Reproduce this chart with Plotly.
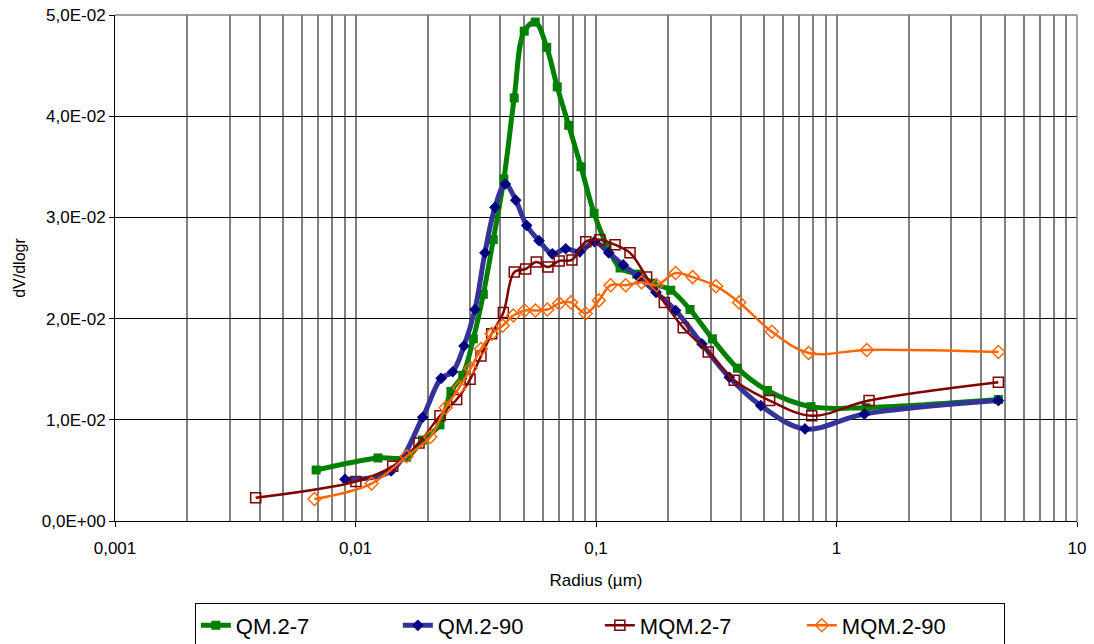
import plotly.graph_objects as go

# ---- data ----
qm27_r = [0.00686, 0.0124, 0.0163, 0.0190, 0.02245, 0.02494, 0.02791, 0.0309, 0.0340, 0.0374,
          0.0414, 0.0457, 0.0503, 0.0559, 0.0624, 0.0690, 0.0770, 0.0866, 0.0982, 0.1112,
          0.1259, 0.1476, 0.1721, 0.2046, 0.2460, 0.3047, 0.3873, 0.5157, 0.7834, 1.327, 4.71]
qm27_v = [0.00504, 0.00623, 0.0063, 0.0080, 0.0095, 0.0128, 0.0144, 0.0180, 0.0224, 0.0278,
          0.0338, 0.0418, 0.0484, 0.0493, 0.0468, 0.0429, 0.0391, 0.0350, 0.0304, 0.0272,
          0.0250, 0.0244, 0.0235, 0.0228, 0.0209, 0.0180, 0.0151, 0.0129, 0.0113, 0.0112, 0.0120]

qm290_r = [0.00904, 0.01406, 0.01902, 0.0227, 0.02537, 0.02826, 0.03139, 0.03453, 0.03801, 0.04196,
           0.04637, 0.0515, 0.05797, 0.0658, 0.07482, 0.08566, 0.09844, 0.1130, 0.1298, 0.1505,
           0.1776, 0.2143, 0.2758, 0.3584, 0.4844, 0.7396, 1.306, 4.71]
qm290_v = [0.00412, 0.00494, 0.01025, 0.0141, 0.01475, 0.0173, 0.0209, 0.0265, 0.0310, 0.0333,
           0.0317, 0.0292, 0.0277, 0.0264, 0.0269, 0.0266, 0.0276, 0.0265, 0.0253, 0.0241,
           0.0226, 0.0208, 0.0175, 0.0142, 0.0114, 0.0091, 0.01057, 0.0119]

mqm27_r = [0.003846, 0.01004, 0.01428, 0.01837, 0.02245, 0.02634, 0.02994, 0.03325, 0.03684, 0.0412,
           0.04571, 0.0510, 0.05646, 0.06312, 0.07031, 0.07943, 0.0907, 0.1038, 0.1200, 0.1385,
           0.1624, 0.1923, 0.2306, 0.2930, 0.3757, 0.5272, 0.7886, 1.366, 4.71]
mqm27_v = [0.0023, 0.0039, 0.0054, 0.0077, 0.0104, 0.0120, 0.0140, 0.0163, 0.0185, 0.0206,
           0.0246, 0.0249, 0.0256, 0.0251, 0.0257, 0.0258, 0.0276, 0.0278, 0.0273, 0.0265,
           0.0241, 0.0216, 0.0191, 0.0167, 0.0139, 0.0119, 0.0104, 0.0119, 0.0137]

mqm290_r = [0.00675, 0.01167, 0.01633, 0.02047, 0.02371, 0.02702, 0.03013, 0.03325, 0.03684, 0.04091,
            0.04529, 0.05046, 0.0560, 0.06276, 0.07031, 0.0787, 0.09057, 0.1028, 0.1150, 0.1329,
            0.1548, 0.1786, 0.2143, 0.2522, 0.3154, 0.3938, 0.5386, 0.7652, 1.336, 4.71]
mqm290_v = [0.00217, 0.0037, 0.0064, 0.0083, 0.0112, 0.0132, 0.0151, 0.0170, 0.0185, 0.0193,
            0.0203, 0.0208, 0.0208, 0.0209, 0.0215, 0.0216, 0.0205, 0.0218, 0.0233, 0.0233,
            0.0236, 0.0233, 0.0245, 0.0241, 0.0232, 0.0216, 0.0187, 0.0166, 0.0169, 0.0167]

series_names = ["QM.2-7", "QM.2-90", "MQM.2-7", "MQM.2-90"]

x_tickvals = [0.001, 0.01, 0.1, 1, 10]
x_ticktext = ["0,001", "0,01", "0,1", "1", "10"]
y_tickvals = [0, 0.01, 0.02, 0.03, 0.04, 0.05]
y_ticktext = ["0,0E+00", "1,0E-02", "2,0E-02", "3,0E-02", "4,0E-02", "5,0E-02"]

FONT = "Liberation Sans, Arial, sans-serif"

fig = go.Figure()
fig.add_trace(go.Scatter(
    x=qm27_r, y=qm27_v, name=series_names[0], mode="lines+markers",
    line=dict(color="#008000", width=5, shape="spline", smoothing=1),
    marker=dict(symbol="square", size=9, color="#008000")))
fig.add_trace(go.Scatter(
    x=qm290_r, y=qm290_v, name=series_names[1], mode="lines+markers",
    line=dict(color="#333399", width=5, shape="spline", smoothing=1),
    marker=dict(symbol="diamond", size=9, color="#000080")))
fig.add_trace(go.Scatter(
    x=mqm27_r, y=mqm27_v, name=series_names[2], mode="lines+markers",
    line=dict(color="#800000", width=2.5, shape="spline", smoothing=1),
    marker=dict(symbol="square-open", size=10, color="#800000", line=dict(width=1.5))))
fig.add_trace(go.Scatter(
    x=mqm290_r, y=mqm290_v, name=series_names[3], mode="lines+markers",
    line=dict(color="#FF6600", width=2.5, shape="spline", smoothing=1),
    marker=dict(symbol="diamond-open", size=10, color="#FF6600", line=dict(width=1.5))))

minor_vals = [m * 10 ** e for e in range(-3, 1) for m in range(2, 10)]

fig.update_layout(
    width=1094, height=644,
    margin=dict(l=115, r=17, t=15, b=123, autoexpand=False),
    paper_bgcolor="white", plot_bgcolor="white",
    font=dict(family=FONT, color="black", size=17),
    showlegend=True,
    legend=dict(orientation="h", x=0.504, xanchor="center", y=-0.163, yanchor="top",
                bordercolor="black", borderwidth=1, font=dict(size=22, family=FONT),
                entrywidth=157, entrywidthmode="pixels", tracegroupgap=0),
    xaxis=dict(type="log", range=[-3, 1], tickmode="array", tickvals=x_tickvals, ticktext=x_ticktext,
               showgrid=True, gridcolor="#808080", gridwidth=1.5,
               minor=dict(tickmode="array", tickvals=minor_vals, showgrid=True,
                          gridcolor="#808080", gridwidth=1.5, ticks=""),
               ticks="outside", ticklen=5, tickcolor="black",
               showline=True, linecolor="black", linewidth=1,
               tickfont=dict(size=17), zeroline=False, automargin=False,
               ticklabelstandoff=7,
               title=dict(text="Radius (µm)", font=dict(size=17), standoff=16)),
    yaxis=dict(range=[0, 0.05], tickmode="array", tickvals=y_tickvals, ticktext=y_ticktext,
               showgrid=True, gridcolor="black", gridwidth=1,
               ticks="outside", ticklen=5, tickcolor="black",
               showline=True, linecolor="black", linewidth=1,
               tickfont=dict(size=17), zeroline=False, automargin=False,
               title=dict(text="dV/dlogr", font=dict(size=16), standoff=12)),
    shapes=[
        dict(type="line", xref="paper", yref="paper", x0=0, x1=1, y0=1, y1=1,
             line=dict(color="#808080", width=1.5), layer="above"),
        dict(type="line", xref="paper", yref="paper", x0=1, x1=1, y0=0, y1=1,
             line=dict(color="#808080", width=1.5), layer="above"),
    ],
)

fig.write_html("out.html", config={"displayModeBar": False},
               post_script="document.body.style.margin='0px';")
